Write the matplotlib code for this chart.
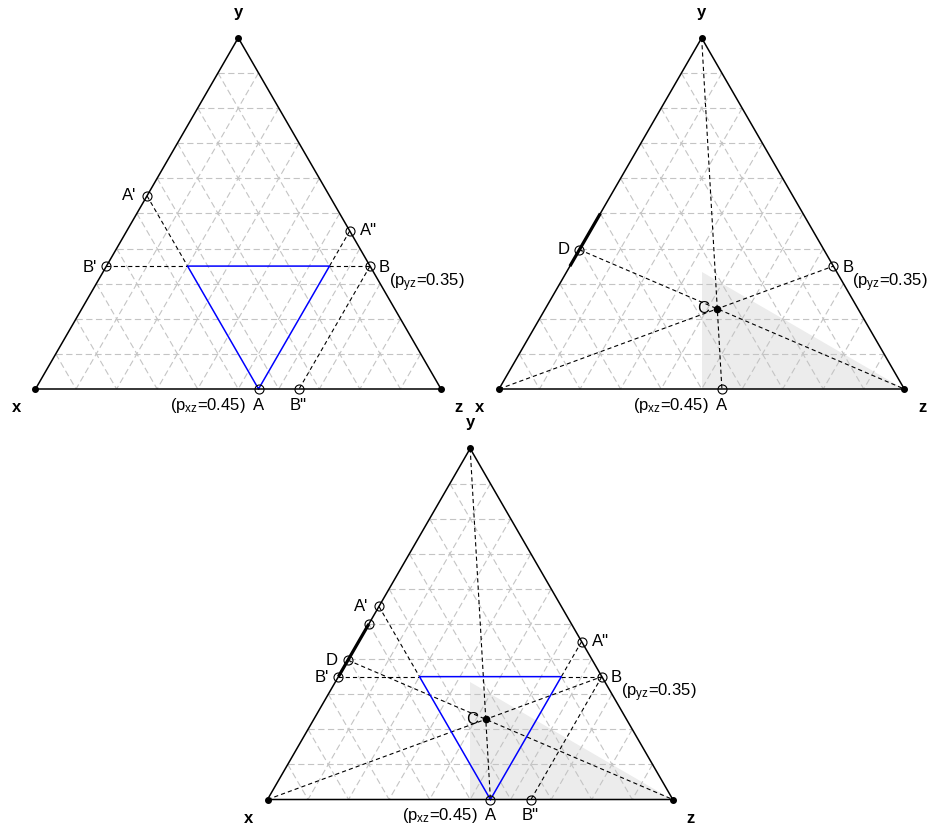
import numpy as np
import matplotlib
matplotlib.use("Agg")
import matplotlib.pyplot as plt

plt.rcParams['font.family'] = ['Liberation Sans', 'DejaVu Sans']
plt.rcParams['mathtext.fontset'] = 'custom'
plt.rcParams['mathtext.rm'] = 'Liberation Sans'
plt.rcParams['mathtext.it'] = 'Liberation Sans'
plt.rcParams['mathtext.default'] = 'regular'
plt.rcParams['lines.scale_dashes'] = False

# ---- data (ternary coordinates as (x, y, z)) ----
p_xz = 0.45
p_yz = 0.35
grid_levels = [0.1, 0.2, 0.3, 0.4, 0.5, 0.6, 0.7, 0.8, 0.9]
pt_A = (0.45, 0.0, 0.55)
pt_B = (0.0, 0.35, 0.65)
pt_A1 = (0.45, 0.55, 0.0)   # A'
pt_A2 = (0.0, 0.45, 0.55)   # A''
pt_B1 = (0.65, 0.35, 0.0)   # B'
pt_B2 = (0.35, 0.0, 0.65)   # B''
blue_tri = [(0.45, 0.0, 0.55), (0.45, 0.35, 0.20), (0.10, 0.35, 0.55)]
shade_region = [(1/3, 1/3, 1/3), (0.5, 0.0, 0.5), (0.0, 0.0, 1.0)]
d_range_y = [0.35, 0.50]    # thick segment on x-y edge
vertex_x = (1.0, 0.0, 0.0)
vertex_y = (0.0, 1.0, 0.0)
vertex_z = (0.0, 0.0, 1.0)

W, H = 927, 828
fig = plt.figure(figsize=(W / 100, H / 100), dpi=100)
S3 = np.sqrt(3) / 2


def cart(p):
    x, y, z = p
    s = x + y + z
    x, y, z = x / s, y / s, z / s
    return z + y / 2, y * S3


def bary_from_cart(px, py):
    y = py / S3
    z = px - y / 2
    return (1 - y - z, y, z)


def intersect(p1, p2, p3, p4):
    a1, b1 = np.array(cart(p1)), np.array(cart(p2))
    a2, b2 = np.array(cart(p3)), np.array(cart(p4))
    d1, d2 = b1 - a1, b2 - a2
    M = np.array([d1, -d2]).T
    t = np.linalg.solve(M, a2 - a1)
    q = a1 + t[0] * d1
    return bary_from_cart(q[0], q[1])


pt_C = intersect(vertex_y, pt_A, vertex_x, pt_B)
pt_D = intersect(vertex_z, pt_C, vertex_x, vertex_y)

GRID = dict(color='#c4c4c4', lw=0.8, linestyle=(0, (4.5, 2.5)), zorder=1)
DASH = dict(color='black', lw=0.8, linestyle=(0, (3, 2.2)), zorder=3)
FS = 12


def make_ax(x0, y0, S):
    m = 0.12
    left = x0 - m * S
    top = y0 - (S3 + m) * S
    w = (1 + 2 * m) * S
    h = (S3 + 2 * m) * S
    ax = fig.add_axes([left / W, (H - top - h) / H, w / W, h / H])
    ax.set_xlim(-m, 1 + m)
    ax.set_ylim(-m, S3 + m)
    ax.axis('off')
    ax.patch.set_visible(False)
    return ax


def line(ax, p, q, **kw):
    a, b = cart(p), cart(q)
    ax.plot([a[0], b[0]], [a[1], b[1]], **kw)


def draw_grid(ax):
    for g in grid_levels:
        line(ax, (1 - g, g, 0), (0, g, 1 - g), **GRID)
        line(ax, (g, 1 - g, 0), (g, 0, 1 - g), **GRID)
        line(ax, (0, 1 - g, g), (1 - g, 0, g), **GRID)


def draw_frame(ax):
    vs = [vertex_x, vertex_z, vertex_y, vertex_x]
    xs, ys = zip(*[cart(v) for v in vs])
    ax.plot(xs, ys, color='black', lw=1.1, zorder=5)
    xs, ys = zip(*[cart(v) for v in vs[:3]])
    ax.plot(xs, ys, 'o', color='black', ms=4, zorder=7)
    lab = dict(fontsize=FS, fontweight='bold', textcoords='offset pixels',
               ha='center', va='center')
    ax.annotate('x', cart(vertex_x), xytext=(-19, -18), **lab)
    ax.annotate('y', cart(vertex_y), xytext=(0, 26.5), **lab)
    ax.annotate('z', cart(vertex_z), xytext=(18, -18), **lab)


def open_pt(ax, p):
    c = cart(p)
    ax.plot([c[0]], [c[1]], 'o', mfc='none', mec='black', ms=6.5, mew=0.8, zorder=8)


def solid_pt(ax, p):
    c = cart(p)
    ax.plot([c[0]], [c[1]], 'o', color='black', ms=4.5, zorder=8)


def label(ax, p, text, dx, dy, ha):
    ax.annotate(text, cart(p), xytext=(dx, dy), textcoords='offset pixels',
                ha=ha, va='center', fontsize=FS, zorder=9)


def shade(ax):
    xs, ys = zip(*[cart(v) for v in shade_region])
    ax.fill(xs, ys, color='#ececec', lw=0, zorder=0)


def blue_part(ax):
    P1, P2 = blue_tri[1], blue_tri[2]
    line(ax, pt_A1, P1, **DASH)
    line(ax, pt_A2, P2, **DASH)
    line(ax, pt_B1, P1, **DASH)
    line(ax, P2, pt_B, **DASH)
    line(ax, pt_B, pt_B2, **DASH)
    vs = blue_tri + [blue_tri[0]]
    xs, ys = zip(*[cart(v) for v in vs])
    ax.plot(xs, ys, color='#0000ff', lw=1.1, zorder=4)
    for p in [pt_A1, pt_A2, pt_B1, pt_B2]:
        open_pt(ax, p)
    label(ax, pt_A1, "A'", -11, 1, 'right')
    label(ax, pt_B1, "B'", -10, 0, 'right')
    label(ax, pt_A2, 'A"', 10, 1, 'left')
    label(ax, pt_B2, 'B"', -1, -15.5, 'center')


def common_AB(ax):
    open_pt(ax, pt_A)
    open_pt(ax, pt_B)
    label(ax, pt_A, 'A', 0, -15.5, 'center')
    label(ax, pt_A, r'(p$_{xz}$=%.2f)' % p_xz, -13, -15.5, 'right')
    label(ax, pt_B, 'B', 9, 0, 'left')
    label(ax, pt_B, r'(p$_{yz}$=%.2f)' % p_yz, 19, -15.5, 'left')


def c_part(ax, circles):
    shade(ax)
    line(ax, vertex_y, pt_A, **DASH)
    line(ax, vertex_x, pt_B, **DASH)
    line(ax, pt_D, vertex_z, **DASH)
    d0 = (1 - d_range_y[0], d_range_y[0], 0)
    d1 = (1 - d_range_y[1], d_range_y[1], 0)
    line(ax, d0, d1, color='black', lw=2.3, zorder=6, solid_capstyle='butt')
    solid_pt(ax, pt_C)
    open_pt(ax, pt_D)
    if circles:
        open_pt(ax, d1)
    label(ax, pt_C, 'C', -8, 1, 'right')
    label(ax, pt_D, 'D', -10, 1, 'right')


# panel 1
ax1 = make_ax(35.5, 390, 405.5)
draw_grid(ax1)
blue_part(ax1)
common_AB(ax1)
draw_frame(ax1)

# panel 2
ax2 = make_ax(499, 390, 405.3)
draw_grid(ax2)
c_part(ax2, False)
common_AB(ax2)
draw_frame(ax2)

# panel 3
ax3 = make_ax(267.5, 800.5, 405.3)
draw_grid(ax3)
c_part(ax3, True)
blue_part(ax3)
common_AB(ax3)
draw_frame(ax3)

fig.savefig('out.png', dpi=100)
